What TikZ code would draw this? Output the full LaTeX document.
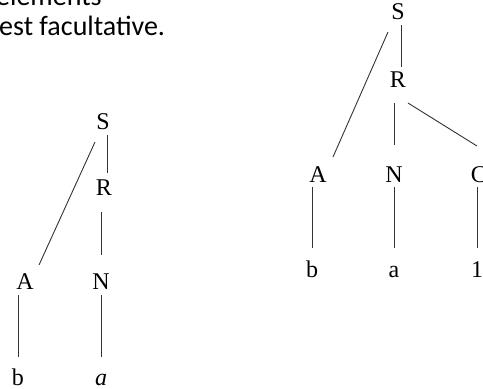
\documentclass[tikz,border=0pt]{standalone}
\usepackage{fontspec}
\setmainfont{Liberation Serif}
\newfontfamily\calib{Carlito}
\usetikzlibrary{calc}
\begin{document}
\begin{tikzpicture}[x=1pt,y=-1pt,
  lab/.style={anchor=base,inner sep=0pt,font=\fontsize{24}{28}\selectfont},
  para/.style={anchor=base west,inner sep=0pt,font=\calib\fontsize{28}{34}\selectfont},
  edge/.style={draw=black!80,line width=0.9pt}]
\clip (0,0) rectangle (483,389);
\useasboundingbox (0,0) rectangle (483,389);
% paragraph text
\node[para] (t1) at (-4,5) {éléments};
\node[para] (t2) at (-1,35) {est facultative.};
% left tree
\node[lab] (lS) at (103,129) {S};
\node[lab] (lR) at (104,195) {R};
\node[lab] (lA) at (25,289) {A};
\node[lab] (lN) at (101,289) {N};
\node[lab] (lb) at (18,385) {b};
\node[lab] (la) at (101,385) {\itshape a};
\draw[edge] ($(lS.base)+(4,6)$) -- ($(lR.base)+(3,-22)$);
\draw[edge] ($(lR.base)+(-3,17)$) -- ($(lN.base)+(0,-34)$);
\draw[edge] ($(lN.base)+(0,6)$) -- ($(la.base)+(0,-28)$);
\draw[edge] ($(lS.base)+(-8,13)$) -- ($(lA.base)+(14,-24)$);
\draw[edge] ($(lA.base)+(-7,6)$) -- ($(lb.base)+(0,-28)$);
% right tree
\node[lab] (rS) at (398,19) {S};
\node[lab] (rR) at (398,87) {R};
\node[lab] (rA) at (318,182) {A};
\node[lab] (rN) at (394,182) {N};
\node[lab] (rC) at (479,182) {C};
\node[lab] (rb) at (312,277) {b};
\node[lab] (ra) at (394,277) {a};
\node[lab] (r1) at (477,277) {1};
\draw[edge] ($(rS.base)+(3,6)$) -- ($(rR.base)+(3,-20)$);
\draw[edge] ($(rS.base)+(-10,13)$) -- ($(rA.base)+(15,-25)$);
\draw[edge] ($(rR.base)+(-4,16)$) -- ($(rN.base)+(0,-37)$);
\draw[edge] ($(rR.base)+(10,16)$) -- ($(rC.base)+(-2,-36)$);
\draw[edge] ($(rA.base)+(-6,5)$) -- ($(rb.base)+(0,-29)$);
\draw[edge] ($(rN.base)+(0,5)$) -- ($(ra.base)+(0,-29)$);
\draw[edge] ($(rC.base)+(-2,5)$) -- ($(r1.base)+(0,-29)$);
\end{tikzpicture}
\end{document}
